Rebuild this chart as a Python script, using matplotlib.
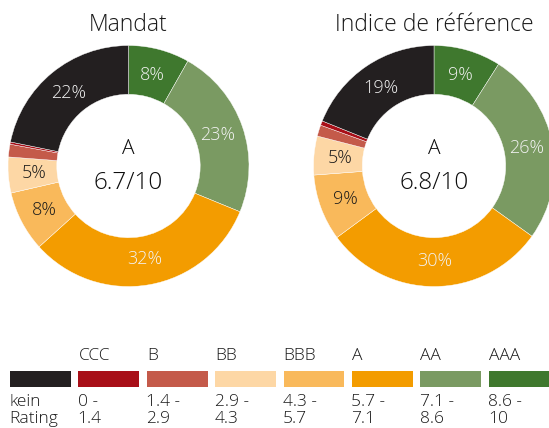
import matplotlib
matplotlib.use("Agg")
import matplotlib.pyplot as plt

plt.rcParams['font.family'] = ['Open Sans', 'DejaVu Sans']
plt.rcParams['font.weight'] = 'light'

# rating classes, clockwise from the top
classes = ['AAA', 'AA', 'A', 'BBB', 'BB', 'B', 'CCC', 'kein Rating']
colors = ['#3f782e', '#7a9a62', '#f39c00', '#f9b95b', '#fdd7a5', '#c45a4a', '#a80f18', '#231f20']
label_dark = [False, False, False, True, True, False, False, False]

mandat = [8.2, 23.0, 32.1, 8.1, 4.8, 1.7, 0.3, 21.8]
indice = [9.0, 25.9, 30.0, 8.9, 5.2, 1.5, 0.6, 18.9]

titles = ['Mandat', 'Indice de référence']
ratings = ['A', 'A']
scores = ['6.7/10', '6.8/10']

# legend, left to right
legend_top = ['', 'CCC', 'B', 'BB', 'BBB', 'A', 'AA', 'AAA']
legend_bottom = [('kein', 'Rating'), ('0 -', '1.4'), ('1.4 -', '2.9'), ('2.9 -', '4.3'),
                 ('4.3 -', '5.7'), ('5.7 -', '7.1'), ('7.1 -', '8.6'), ('8.6 -', '10')]
legend_colors = colors[::-1]

W, H = 549, 428
fig = plt.figure(figsize=(W / 100, H / 100), dpi=100)


def px_axes(x0, y0, w, h):
    # axes from pixel box (top-left origin)
    return fig.add_axes([x0 / W, 1 - (y0 + h) / H, w / W, h / H])


def fmt(p):
    return '%d%%' % round(p) if p >= 3 else ''


centers = [(128.5, 166), (434, 166)]
R = 120.5
for k, vals in enumerate([mandat, indice]):
    cx, cy = centers[k]
    ax = px_axes(cx - R, cy - R, 2 * R, 2 * R)
    wedges, _, autotexts = ax.pie(vals, colors=colors, startangle=90, counterclock=False,
                                  radius=1, autopct=fmt, pctdistance=0.785,
                                  wedgeprops=dict(width=0.405, edgecolor='white', linewidth=0.3),
                                  textprops=dict(fontsize=13))
    for t, dark in zip(autotexts, label_dark):
        t.set_color('#1a1a1a' if dark else '#f2f2f2')
    ax.set_xlim(-1, 1)
    ax.set_ylim(-1, 1)
    ax.set_aspect('equal')
    ax.axis('off')
    ax.text(0, 0.14, ratings[k], ha='center', va='center', fontsize=15, color='#0d0d0d')
    ax.text(0, -0.14, scores[k], ha='center', va='center', fontsize=17.5, color='#0d0d0d')
    fig.text(cx / W, 1 - 25 / H, titles[k], ha='center', va='center', fontsize=16.5, color='#1a1a1a')

# legend strip
pitch = 68.4
lax = px_axes(10, 371, pitch * 8, 16)
lax.bar(range(8), [1] * 8, width=0.89, align='edge', color=legend_colors)
lax.set_xlim(0, 8)
lax.set_ylim(0, 1)
lax.axis('off')
for i in range(8):
    lax.text(i, (387 - 360) / 16, legend_top[i], ha='left', va='baseline',
             fontsize=12.5, color='#1a1a1a')
    lax.text(i - 0.01, (387 - 406) / 16, legend_bottom[i][0], ha='left', va='baseline',
             fontsize=12.5, color='#1a1a1a')
    lax.text(i - 0.01, (387 - 423) / 16, legend_bottom[i][1], ha='left', va='baseline',
             fontsize=12.5, color='#1a1a1a')

fig.savefig('out.png', dpi=100)
